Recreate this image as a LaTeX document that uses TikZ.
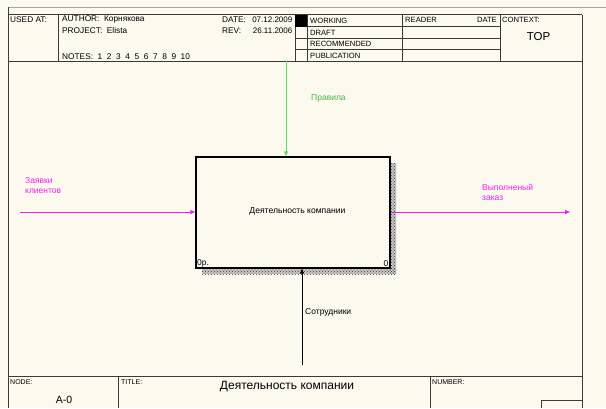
\documentclass[tikz,border=0pt]{standalone}
\usepackage{fontspec}
\setmainfont{Liberation Sans}
\usetikzlibrary{arrows.meta,patterns,calc}
\definecolor{bg}{HTML}{FCF9EF}
\definecolor{frameline}{HTML}{3A3A3A}
\definecolor{magentaline}{HTML}{F020F0}
\definecolor{greenline}{HTML}{66D866}
\definecolor{greentext}{HTML}{40B840}
\tikzset{
  hdr/.style={font=\fontsize{8.3}{9}\selectfont, inner sep=0pt, anchor=west},
  st/.style={font=\fontsize{7.6}{9}\selectfont, inner sep=0pt, anchor=west},
  ft/.style={font=\fontsize{7}{8}\selectfont, inner sep=0pt, anchor=west},
  lbl/.style={font=\fontsize{8.5}{10}\selectfont, inner sep=0pt, anchor=west, align=left},
  fl/.style={draw=frameline, line width=0.8pt},
  arr/.style={-{Triangle[length=5pt,width=4pt]}, line width=0.9pt},
}
\begin{document}
\begin{tikzpicture}[x=1pt,y=-1pt]
\useasboundingbox (0,0) rectangle (606,408);
\fill[bg] (0,0) rectangle (606,408);
% outer gray line
\draw[gray!70, line width=0.8pt] (8,7) -- (606,7);
\draw[fl] (8,7) -- (8,408);
\draw[fl] (8,14.5) -- (582,14.5);
\draw[fl] (582,14.5) -- (582,408);
\draw[fl] (8,61) -- (582,61);
% header columns
\foreach \x in {58,295,307,402,500} \draw[fl] (\x,14.5) -- (\x,61);
\foreach \y in {26.5,38,49.5} \draw[fl] (295,\y) -- (500,\y);
\fill[black] (295,14.5) rectangle (307,26.5);
% header texts
\node[hdr] (usedat) at (10,19.5) {USED AT:};
\node[hdr] (author) at (62,19.5) {AUTHOR:\ \ Корнякова};
\node[hdr] (project) at (62,31) {PROJECT:\ \ Elista};
\node[hdr] (notes) at (62,57) {NOTES:\ \ 1\ \ 2\ \ 3\ \ 4\ \ 5\ \ 6\ \ 7\ \ 8\ \ 9\ \ 10};
\node[hdr] (datel) at (222,19.5) {DATE:};
\node[hdr, anchor=east, font=\fontsize{8}{9}\selectfont] (datev) at (292.5,19.5) {07.12.2009};
\node[hdr] (revl) at (222,31) {REV:};
\node[hdr, anchor=east, font=\fontsize{8}{9}\selectfont] (revv) at (292.5,31) {26.11.2006};
\node[st] (working) at (310,20.5) {WORKING};
\node[st] (draft) at (310,32.5) {DRAFT};
\node[st] (recommended) at (310,44) {RECOMMENDED};
\node[st] (publication) at (310,55.5) {PUBLICATION};
\node[st] (reader) at (405,20) {READER};
\node[st, anchor=east] (rdate) at (497,20) {DATE};
\node[st] (context) at (502,20) {CONTEXT:};
\node[font=\fontsize{11.5}{13}\selectfont, inner sep=0pt] (top) at (538.5,37) {TOP};
% footer
\draw[fl] (8,376) -- (582,376);
\draw[fl] (118,376) -- (118,408);
\draw[fl] (430,376) -- (430,408);
\draw[fl] (541,408) -- (541,400) -- (582,400);
\node[ft] (nodel) at (10,382.5) {NODE:};
\node[font=\fontsize{10.5}{12}\selectfont, inner sep=0pt] (nodev) at (64,399.5) {A-0};
\node[ft] (titlel) at (121,382.5) {TITLE:};
\node[font=\fontsize{12}{14}\selectfont, inner sep=0pt] (titlev) at (287,387) {Деятельность компании};
\node[ft] (numberl) at (432,382.5) {NUMBER:};
% activity box with shadow
\fill[gray!45] (390,163) rectangle (396,274);
\fill[gray!45] (202,268) rectangle (396,274);
\fill[pattern=crosshatch dots, pattern color=black!75] (390,163) rectangle (396,274);
\fill[pattern=crosshatch dots, pattern color=black!75] (202,268) rectangle (396,274);
\node[draw=black, line width=1.3pt, fill=bg, minimum width=194pt, minimum height=111pt, inner sep=0pt] (act) at (293,212.5) {};
\node[font=\fontsize{8.6}{10}\selectfont, inner sep=0pt] (acttext) at (297.5,211) {Деятельность компании};
\node[lbl, anchor=south west] (opno) at ([shift={(1.5,-1.5)}]act.south west) {0р.};
\node[lbl, anchor=south east] (numz) at ([shift={(-2,-1.5)}]act.south east) {0};
% arrows
\coordinate (cin) at (286,61);
\draw[arr, greenline] (cin) -- (cin |- act.north);
\node[lbl, text=greentext] (ctl) at (311,98) {Правила};
\coordinate (iin) at (20,212);
\draw[arr, magentaline] (iin) -- (iin -| act.west);
\node[lbl, text=magentaline] (inl) at (25,186) {Заявки\\клиентов};
\coordinate (oout) at (570,212);
\draw[arr, magentaline] (oout -| act.east) -- (oout);
\node[lbl, text=magentaline] (outl) at (482,192) {Выполненый\\заказ};
\coordinate (mb) at (302,365);
\draw[arr, black] (mb) -- (mb |- act.south);
\node[lbl] (mecl) at (305,312) {Сотрудники};
\end{tikzpicture}
\end{document}
